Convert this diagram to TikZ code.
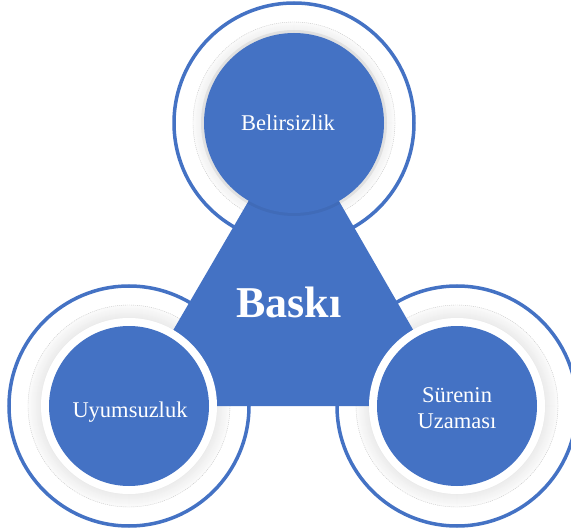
\documentclass[tikz,border=0pt]{standalone}
\usepackage{fontspec}
\setmainfont{Liberation Serif}
\definecolor{baskiblue}{HTML}{4472C4}

\begin{document}
\begin{tikzpicture}[x=1pt,y=-1pt,
    circtext/.style={text=white,font=\fontsize{22.5}{26}\selectfont,align=center,inner sep=0pt}]
    \pgfmathsetmacro{\router}{120}
    \pgfmathsetmacro{\rshade}{101}
    \pgfmathsetmacro{\rhalo}{88}
    \pgfmathsetmacro{\rsmall}{80}
    \pgfmathsetmacro{\rbig}{90}
    \useasboundingbox (0,0) rectangle (571,532);
    \clip (0,0) rectangle (571,532);
    % Define points
    \coordinate (B) at (294,123);
    \coordinate (U) at (129,406);
    \coordinate (S) at (457,406);
    % Draw outer rings and their soft shadows
    \foreach \x in {B,U,S} {
        \draw[line width=3.5,draw=baskiblue,fill=white] (\x) circle[radius=\router];
        \foreach \k in {0,...,13} {
            \fill[gray!\k!white!97!gray] (\x) circle[radius=\rshade-\k];
        }
        \draw[gray!45,line width=0.4,dash pattern=on 1pt off 1pt] (\x) circle[radius=\rshade];
    }
    % Draw the triangle through the three centres
    \fill[baskiblue] (B) -- (U) -- (S) -- cycle;
    % Draw halos and disks
    \foreach \x in {U,S} {
        \fill[white] (\x) circle[radius=\rhalo];
        \fill[baskiblue] (\x) circle[radius=\rsmall];
    }
    \fill[black,opacity=0.06] (B) circle[radius=\rbig+3];
    \fill[baskiblue] (B) circle[radius=\rbig];
    % Texts
    \node[circtext] (belirsizlik) at (288,123) {Belirsizlik};
    \node[circtext,anchor=base] (uyumsuzluk) at (130,417) {Uyumsuzluk};
    \node[circtext] (surenin) at (457,408) {Sürenin\\Uzaması};
    \node[text=white,font=\fontsize{44}{50}\selectfont\bfseries,anchor=base] (baski) at (289,317) {Baskı};
\end{tikzpicture}
\end{document}
